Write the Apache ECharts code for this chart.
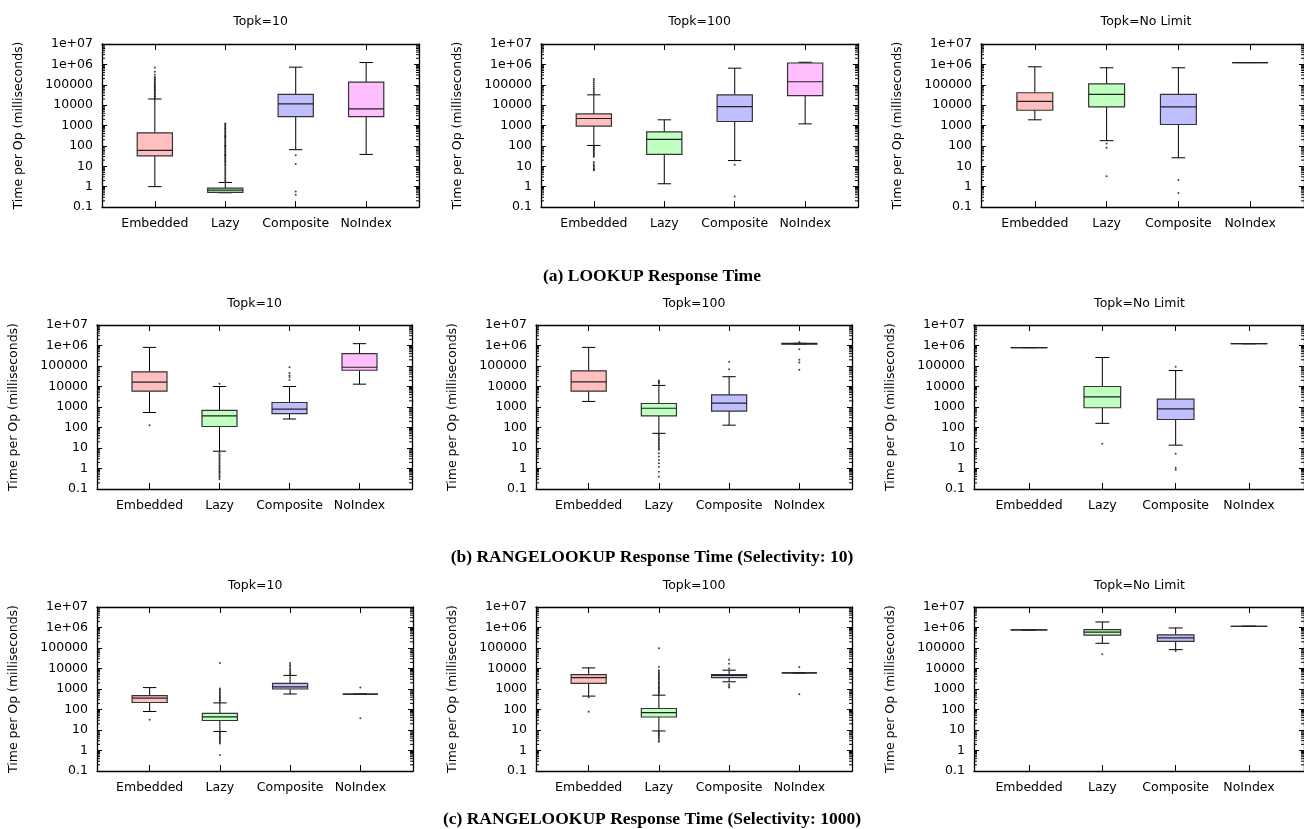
<!DOCTYPE html>
<html>
<head>
<meta charset="utf-8">
<script src="https://cdn.jsdelivr.net/npm/echarts@6/dist/echarts.min.js"></script>
<style>html,body{margin:0;padding:0;background:#fff}#c{width:1304px;height:829px}</style>
</head>
<body>
<div id="c"></div>
<script>
// ---------------- DATA ----------------
const categories = ['Embedded', 'Lazy', 'Composite', 'NoIndex'];
const panelTitles = ['Topk=10', 'Topk=100', 'Topk=No Limit'];
const rowCaptions = [
  '(a) LOOKUP Response Time',
  '(b) RANGELOOKUP Response Time (Selectivity: 10)',
  '(c) RANGELOOKUP Response Time (Selectivity: 1000)'
];
const yTickLabels = ['0.1', '1', '10', '100', '1000', '10000', '100000', '1e+06', '1e+07'];
const yAxisTitle = 'Time per Op (milliseconds)';

// box stats per category: [lower whisker, q1, median, q3, upper whisker]
const lookupTop10Box = [
  [1, 32, 60, 437, 20000],
  [0.5, 0.52, 0.68, 0.85, 1.6],
  [65, 2750, 11500, 34000, 730000],
  [38, 2750, 6500, 135000, 1230000]
];
const lookupTop10Out = [
  [22000, 25000, 28000, 32000, 36000, 41000, 46000, 52000, 58000, 65000, 73000, 82000, 92000, 105000, 120000, 135000, 155000, 180000, 210000, 240000, 310000, 430000, 700000],
  [1.8, 2.1, 2.5, 3, 3.6, 4.3, 5.2, 6.2, 7.4, 8.8, 10.5, 12, 14, 16, 18.5, 21, 24, 28, 32, 37, 42, 48, 55, 63, 72, 82, 94, 108, 124, 142, 163, 187, 215, 247, 283, 325, 373, 428, 491, 563, 646, 741, 850, 975, 1120, 1260, 300, 100, 35],
  [35, 13, 0.57, 0.4],
  []
];

const lookupTop100Box = [
  [105, 940, 2200, 3700, 32000],
  [1.38, 38, 210, 490, 1900],
  [19, 1570, 8500, 32000, 650000],
  [1200, 29000, 140000, 1170000, 1270000]
];
const lookupTop100Out = [
  [38000, 45000, 55000, 66000, 80000, 100000, 125000, 155000, 190000, 95, 85, 75, 66, 58, 50, 44, 38, 33, 29, 16, 13, 11, 9.5, 8, 7, 6.3],
  [],
  [12, 0.33],
  []
];

const lookupNoLimitBox = [
  [1900, 5600, 15400, 40500, 760000],
  [180, 8200, 34000, 110000, 680000],
  [26, 1120, 8200, 34000, 680000],
  [1230000, 1230000, 1230000, 1230000, 1230000]
];
const lookupNoLimitOut = [[], [130, 80, 3.2], [2.1, 0.48], []];

const range10Top10Box = [
  [540, 5900, 16300, 52000, 810000],
  [7, 112, 370, 680, 10000],
  [260, 470, 780, 1660, 10000],
  [13000, 62000, 87000, 400000, 1230000]
];
const range10Top10Out = [
  [130],
  [13500, 6, 5, 4.2, 3.5, 3, 2.5, 2.1, 1.8, 1.5, 1.3, 1.1, 0.95, 0.8, 0.7, 0.6, 0.5, 0.42, 0.36, 0.3],
  [21000, 28000, 34000, 45000, 87000],
  []
];

const range10Top100Box = [
  [1870, 5900, 16700, 58000, 810000],
  [52, 370, 870, 1480, 11300],
  [130, 630, 1550, 3900, 30000],
  [1180000, 1180000, 1230000, 1280000, 1280000]
];
const range10Top100Out = [
  [],
  [13500, 15500, 17500, 19600, 45, 38, 32, 27, 23, 19, 16, 13.5, 11.5, 9.8, 8.3, 5.6, 3.8, 2.6, 1.8, 1.2, 0.7, 0.4],
  [69000, 160000],
  [1500000, 650000, 200000, 150000, 65000]
];

const range10NoLimitBox = [
  [790000, 790000, 790000, 790000, 790000],
  [160, 920, 3100, 10000, 260000],
  [13.8, 245, 810, 2400, 60000],
  [1230000, 1230000, 1230000, 1230000, 1230000]
];
const range10NoLimitOut = [[], [16], [93000, 5.3, 1.1, 0.87], []];

const range1000Top10Box = [
  [80, 220, 355, 470, 1170],
  [8.5, 29, 44, 64, 210],
  [570, 1000, 1260, 1870, 4600],
  [560, 560, 560, 560, 560]
];
const range1000Top10Out = [
  [32],
  [240, 280, 320, 370, 430, 500, 580, 680, 800, 930, 1050, 18700, 7.5, 6.5, 5.7, 5, 4.4, 3.8, 3.3, 2.9, 2.5, 2.2, 0.6],
  [5200, 6000, 7000, 8500, 10000, 12500, 15000, 18700],
  [1170, 37]
];

const range1000Top100Box = [
  [450, 1870, 3600, 5000, 10700],
  [9, 43, 71, 112, 500],
  [2240, 3600, 4600, 5000, 8300],
  [6100, 6100, 6100, 6100, 6100]
];
const range1000Top100Out = [
  [400, 78],
  [560, 640, 730, 830, 950, 1080, 1230, 1400, 1600, 1850, 2100, 2400, 2800, 3200, 3700, 4300, 5000, 5800, 6700, 8300, 12000, 98000, 8, 7, 6, 5.2, 4.5, 3.8, 3.2, 2.7],
  [27000, 17000, 10000, 1700, 1400, 1200],
  [12000, 560]
];

const range1000NoLimitBox = [
  [760000, 760000, 760000, 760000, 760000],
  [170000, 420000, 590000, 790000, 1860000],
  [83000, 210000, 310000, 440000, 950000],
  [1150000, 1150000, 1150000, 1150000, 1150000]
];
const range1000NoLimitOut = [[], [49000], [72000], []];

// ---------------- LAYOUT / STYLE ----------------
const boxFill = ['#ffbfbf', '#bfffbf', '#bfbfff', '#ffbfff'];
const panels = [
  [lookupTop10Box, lookupTop10Out], [lookupTop100Box, lookupTop100Out], [lookupNoLimitBox, lookupNoLimitOut],
  [range10Top10Box, range10Top10Out], [range10Top100Box, range10Top100Out], [range10NoLimitBox, range10NoLimitOut],
  [range1000Top10Box, range1000Top10Out], [range1000Top100Box, range1000Top100Out], [range1000NoLimitBox, range1000NoLimitOut]
];
const rowsY = [[44, 207], [325, 489], [607, 771]];
const colsX = [
  [[102, 419], [541, 858], [981, 1311]],
  [[97, 412], [536, 852], [974, 1305]],
  [[97, 413], [536, 852], [974, 1305]]
];
const titleY = [15, 297, 579];
const captionY = [267, 548, 810];
const FONT = 'DejaVu Sans';
const FS = 12.5;

const minorVals = [];
for (let e = -1; e <= 6; e++) for (let d = 2; d <= 9; d++) minorVals.push([0.25, d * Math.pow(10, e)]);

function renderBox(params, api) {
  const x = api.value(0);
  const lo = api.value(1), q1 = api.value(2), md = api.value(3), q3 = api.value(4), hi = api.value(5);
  const ci = api.value(6);
  const L = api.coord([x - 0.25, md])[0], R = api.coord([x + 0.25, md])[0];
  const cx = api.coord([x, md])[0];
  const ch = (R - L) * 0.19;
  const y = v => api.coord([x, v])[1];
  const ls = { stroke: '#000', lineWidth: 1 };
  return {
    type: 'group', children: [
      { type: 'line', shape: { x1: cx, y1: y(hi), x2: cx, y2: y(q3) }, style: ls },
      { type: 'line', shape: { x1: cx, y1: y(q1), x2: cx, y2: y(lo) }, style: ls },
      { type: 'line', shape: { x1: cx - ch, y1: y(hi), x2: cx + ch, y2: y(hi) }, style: ls },
      { type: 'line', shape: { x1: cx - ch, y1: y(lo), x2: cx + ch, y2: y(lo) }, style: ls },
      { type: 'rect', shape: { x: L, y: y(q3), width: R - L, height: y(q1) - y(q3) }, style: { fill: boxFill[ci], stroke: '#333', lineWidth: 1.2 } },
      { type: 'line', shape: { x1: L, y1: y(md), x2: R, y2: y(md) }, style: { stroke: '#222', lineWidth: 1.2 } }
    ]
  };
}

function renderMinor(params, api) {
  const v = api.value(1);
  const pL = api.coord([0.25, v]);
  const pR = api.coord([4.75, v]);
  const st = { stroke: '#000', lineWidth: 1 };
  return {
    type: 'group', children: [
      { type: 'line', shape: { x1: pL[0], y1: pL[1], x2: pL[0] + 3, y2: pL[1] }, style: st },
      { type: 'line', shape: { x1: pR[0] - 3, y1: pR[1], x2: pR[0], y2: pR[1] }, style: st }
    ]
  };
}

const grid = [], xAxis = [], yAxis = [], series = [], title = [];
panels.forEach((p, i) => {
  const r = Math.floor(i / 3), c = i % 3;
  const [x0, x1] = colsX[r][c];
  const [y0, y1] = rowsY[r];
  grid.push({ left: x0, top: y0, width: x1 - x0, height: y1 - y0 });
  const axLine = { show: true, onZero: false, lineStyle: { color: '#000', width: 1.3 } };
  const xBase = {
    gridIndex: i, type: 'value', min: 0.25, max: 4.75, splitLine: { show: false },
    axisLine: axLine,
    axisTick: { show: true, inside: true, length: 6, customValues: [1, 2, 3, 4], lineStyle: { color: '#000', width: 1 } }
  };
  xAxis.push(Object.assign({}, xBase, {
    position: 'bottom',
    axisLabel: { show: true, customValues: [1, 2, 3, 4], formatter: v => categories[Math.round(v) - 1], color: '#000', fontFamily: FONT, fontSize: FS, margin: 10 }
  }));
  xAxis.push(Object.assign({}, xBase, { position: 'top', axisLabel: { show: false } }));
  const yBase = {
    gridIndex: i, type: 'log', logBase: 10, min: 0.1, max: 1e7, splitLine: { show: false },
    axisLine: axLine, minorTick: { show: false },
    axisTick: { show: true, inside: true, length: 5, lineStyle: { color: '#000', width: 1 } }
  };
  yAxis.push(Object.assign({}, yBase, {
    position: 'left',
    name: yAxisTitle, nameLocation: 'middle', nameRotate: 90, nameGap: 77,
    nameTextStyle: { color: '#000', fontFamily: FONT, fontSize: FS },
    axisLabel: { show: true, formatter: v => yTickLabels[Math.round(Math.log10(v)) + 1], color: '#000', fontFamily: FONT, fontSize: FS, margin: 9 }
  }));
  yAxis.push(Object.assign({}, yBase, { position: 'right', axisLabel: { show: false } }));

  const [box, out] = p;
  series.push({
    type: 'custom', xAxisIndex: 2 * i, yAxisIndex: 2 * i, renderItem: renderBox, silent: true,
    encode: { x: 0, y: [1, 2, 3, 4, 5] },
    data: categories.map((_, k) => [k + 1].concat(box[k]).concat([k]))
  });
  const pts = [];
  out.forEach((arr, k) => arr.forEach(v => pts.push([k + 1, v])));
  series.push({
    type: 'scatter', xAxisIndex: 2 * i, yAxisIndex: 2 * i, symbol: 'circle', symbolSize: 2,
    itemStyle: { color: '#111' }, silent: true, data: pts
  });
  series.push({
    type: 'custom', xAxisIndex: 2 * i, yAxisIndex: 2 * i, renderItem: renderMinor, silent: true,
    encode: { x: 0, y: 1 }, data: minorVals
  });
  title.push({
    text: panelTitles[c], left: (x0 + x1) / 2, top: titleY[r], textAlign: 'center', padding: 0,
    textStyle: { color: '#000', fontFamily: FONT, fontSize: FS, fontWeight: 'normal' }
  });
});
rowCaptions.forEach((t, r) => {
  title.push({
    text: t, left: 652, top: captionY[r], textAlign: 'center', padding: 0,
    textStyle: { color: '#000', fontFamily: 'Liberation Serif', fontSize: 17.5, fontWeight: 'bold' }
  });
});

const chart = echarts.init(document.getElementById('c'), null, { renderer: 'canvas', width: 1304, height: 829 });
chart.setOption({ animation: false, backgroundColor: '#fff', title, grid, xAxis, yAxis, series });
</script>
</body>
</html>
